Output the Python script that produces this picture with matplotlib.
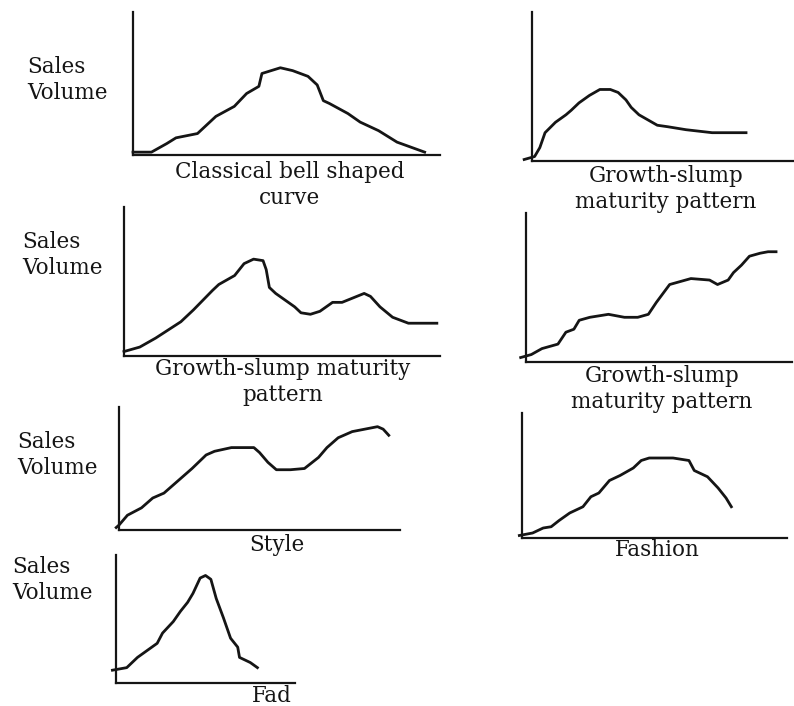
import matplotlib
matplotlib.use("Agg")
import matplotlib.pyplot as plt

W, H = 794, 706

# Sales curves (time 0-100, sales 0-100 of each little axis box)
bell_x = [0, 6, 11, 14, 21, 27, 33, 37, 41, 42, 45, 48, 52, 57, 60, 62, 64, 70, 74, 80, 86, 95]
bell_y = [2, 2, 8, 12, 15, 27, 34, 43, 48, 57, 59, 61, 59, 55, 49, 38, 36, 29, 23, 17, 9, 2]

slump_x = [-3, 1, 3, 5, 9, 13, 15, 18, 22, 26, 30, 33, 36, 38, 41, 44, 48, 52, 59, 69, 82]
slump_y = [1, 3, 9, 19, 26, 31, 34, 39, 44, 48, 48, 46, 41, 36, 31, 28, 24, 23, 21, 19, 19]

double_x = [0, 5, 10, 18, 22, 28, 30, 35, 38, 41, 44, 45, 46, 48, 52, 54, 56, 59, 62, 66,
            69, 76, 78, 81, 85, 90, 99]
double_y = [3, 6, 12, 23, 31, 44, 48, 54, 62, 65, 64, 58, 46, 42, 36, 33, 29, 28, 30, 36,
            36, 42, 40, 33, 26, 22, 22]

steps_x = [-2, 2, 6, 12, 15, 18, 20, 24, 31, 37, 42, 46, 49, 54, 62, 69, 72, 76, 78, 81,
           84, 88, 91, 94]
steps_y = [3, 5, 9, 12, 20, 22, 28, 30, 32, 30, 30, 32, 40, 52, 56, 55, 52, 55, 60, 65,
           71, 73, 74, 74]

style_x = [-1, 0, 3, 8, 12, 16, 22, 26, 31, 34, 40, 48, 50, 53, 56, 61, 66, 71, 74, 78,
           83, 92, 94, 96]
style_y = [2, 4, 12, 18, 26, 30, 42, 50, 61, 64, 67, 67, 63, 55, 49, 49, 50, 59, 67, 75,
           80, 84, 82, 77]

fashion_x = [-1, 4, 8, 11, 14, 18, 23, 26, 29, 33, 37, 42, 45, 48, 57, 63, 65, 70, 74, 77, 79]
fashion_y = [2, 4, 8, 9, 14, 20, 25, 33, 36, 46, 50, 56, 62, 64, 64, 62, 54, 49, 40, 32, 25]

fad_x = [-2, 6, 12, 19, 23, 26, 32, 36, 40, 43, 47, 50, 53, 56, 60, 64, 68, 69, 75, 79]
fad_y = [10, 12, 20, 27, 31, 39, 48, 56, 63, 70, 82, 84, 81, 66, 51, 35, 28, 20, 16, 12]

captions = ["Classical bell shaped\ncurve", "Growth-slump\nmaturity pattern",
            "Growth-slump maturity\npattern", "Growth-slump\nmaturity pattern",
            "Style", "Fashion", "Fad"]

# axis boxes in pixels: left, right, bottom, top
boxes = [(133, 440, 155, 12), (532, 793, 161, 12), (124, 440, 356, 207),
         (526, 792, 362, 213), (119, 400, 530, 407), (522, 787, 538, 413),
         (116, 295, 683, 555)]
cap_pos = [(290, 185), (666, 189), (283, 382), (662, 389), (277, 545), (657, 550), (272, 702)]
ylab_pos = [(27, 80), (22, 255), (17, 455), (12, 580)]

curves = [(bell_x, bell_y), (slump_x, slump_y), (double_x, double_y), (steps_x, steps_y),
          (style_x, style_y), (fashion_x, fashion_y), (fad_x, fad_y)]

ink = "#151515"
fig = plt.figure(figsize=(W / 100, H / 100), dpi=100)

for (x, y), (x0, x1, yb, yt) in zip(curves, boxes):
    ax = fig.add_axes([x0 / W, 1 - yb / H, (x1 - x0) / W, (yb - yt) / H])
    ax.plot(x, y, color=ink, lw=2.0, clip_on=False)
    ax.set_xlim(0, 100)
    ax.set_ylim(0, 100)
    ax.spines[["top", "right"]].set_visible(False)
    for s in ["left", "bottom"]:
        ax.spines[s].set_linewidth(1.6)
        ax.spines[s].set_color(ink)
    ax.set_xticks([])
    ax.set_yticks([])
    ax.patch.set_alpha(0)

font = dict(family="DejaVu Serif", size=15.5, color=ink)
for text, (cx, cy) in zip(captions[:-1], cap_pos[:-1]):
    fig.text(cx / W, 1 - cy / H, text, ha="center", va="center", linespacing=1.2, **font)
# last caption sits right at the bottom edge, so pin its baseline
fx, fy = cap_pos[-1]
fig.text(fx / W, 1 - fy / H, captions[-1], ha="center", va="baseline", **font)
for lx, ly in ylab_pos:
    fig.text(lx / W, 1 - ly / H, "Sales\nVolume", ha="left", va="center", linespacing=1.2, **font)

fig.savefig("out.png", dpi=100)
